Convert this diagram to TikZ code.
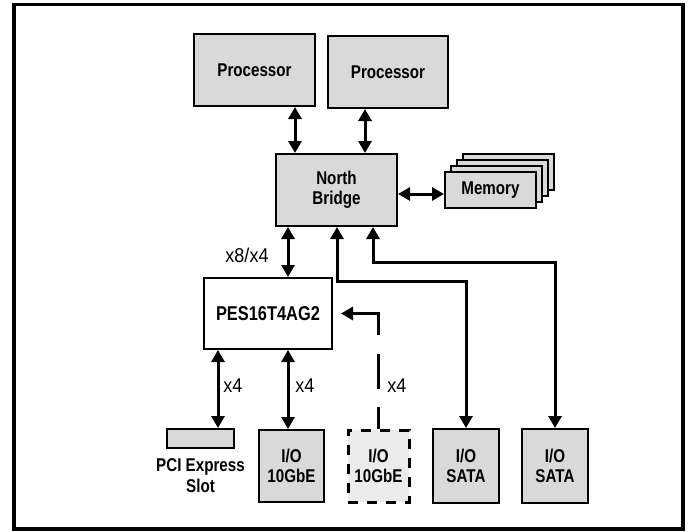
\documentclass[tikz,border=0pt]{standalone}
\usepackage{fontspec}
\setmainfont{Liberation Sans}[FakeStretch=0.82]
\newfontfamily\lanefont{Liberation Sans}[FakeStretch=0.9]
\usetikzlibrary{arrows.meta}
\definecolor{boxgray}{HTML}{D9D9D9}
\definecolor{lightboxgray}{HTML}{EBEBEB}
\begin{document}
\begin{tikzpicture}[x=1pt, y=-1pt,
	box/.style={draw, line width=2pt, fill=boxgray, inner sep=0pt, align=center,
		font=\bfseries\fontsize{18.5}{20.5}\selectfont},
	lanes/.style={font=\lanefont\fontsize{20}{22}\selectfont, inner sep=0pt},
	dbl/.style={{Triangle[length=12pt,width=13pt]}-{Triangle[length=12pt,width=13pt]}, line width=3pt},
	sgl/.style={-{Triangle[length=12pt,width=13pt]}, line width=3pt}]
			\useasboundingbox (0,0) rectangle (689,531);

			% Draw the frame
			\draw[line width=3.5pt] (14,4.5) rectangle (683,529);

			% Draw the boxes
			\node[box, minimum width=121pt, minimum height=72pt] (proc1) at (254.5,70) {Processor};
			\node[box, minimum width=120pt, minimum height=72pt] (proc2) at (388,72) {Processor};
			\node[box, minimum width=121pt, minimum height=72pt] (nb) at (336.5,190) {North\\Bridge};
			\foreach \i in {3,2,1}
				\node[box, minimum width=91pt, minimum height=36pt, xshift=\i*6pt, yshift=\i*6pt] (mem\i) at (490.5,190) {};
			\node[box, minimum width=91pt, minimum height=36pt] (mem) at (490.5,190) {Memory};
			\node[box, fill=white, minimum width=128pt, minimum height=71pt,
				font=\bfseries\fontsize{20}{22}\selectfont] (pes) at (268,313.5) {PES16T4AG2};

			% Draw the slot and the I/O boxes
			\node[box, minimum width=67pt, minimum height=19pt] (slot) at (200.5,438.5) {};
			\node[font=\bfseries\fontsize{18.5}{21}\selectfont, align=center, below=6pt] (slotlabel) at (slot.south) {PCI Express\\Slot};
			\node[box, minimum width=65pt, minimum height=72pt] (io1) at (291.5,466) {I/O\\10GbE};
			\node[box, fill=lightboxgray, line width=3pt, dash pattern=on 10pt off 9pt,
				minimum width=61pt, minimum height=72pt] (io2) at (378.5,466) {I/O\\10GbE};
			\node[box, minimum width=66pt, minimum height=74pt] (sata1) at (466,466) {I/O\\SATA};
			\node[box, minimum width=66pt, minimum height=74pt] (sata2) at (555,466) {I/O\\SATA};

			% Draw the links to the north bridge
			\draw[dbl] (proc1.south -| 295,0) -- (nb.north -| 295,0);
			\draw[dbl] (proc2.south -| 365,0) -- (nb.north -| 365,0);
			\draw[dbl] (nb.east |- 0,194) -- (mem.west |- 0,194);
			\draw[dbl] (pes.north -| 288,0) -- (nb.south -| 288,0);
			\draw[dbl] (sata1.north) |- (337,281) -- (nb.south -| 337,0);
			\draw[dbl] (sata2.north) |- (373,262) -- (nb.south -| 373,0);

			% Draw the links below the switch
			\draw[dbl] (pes.south -| 218,0) -- (slot.north -| 218,0);
			\draw[dbl] (pes.south -| 288,0) -- (io1.north -| 288,0);
			\draw[sgl, dash pattern=on 22pt off 18pt on 35pt off 19pt on 200pt]
				(io2.north) |- ([xshift=8pt]pes.east);

			% Draw the lane labels
			\node[lanes] (l0) at (247,255) {x8/x4};
			\node[lanes] (l1) at (233,386) {x4};
			\node[lanes] (l2) at (305,386) {x4};
			\node[lanes] (l3) at (397,386) {x4};
		\end{tikzpicture}
\end{document}
